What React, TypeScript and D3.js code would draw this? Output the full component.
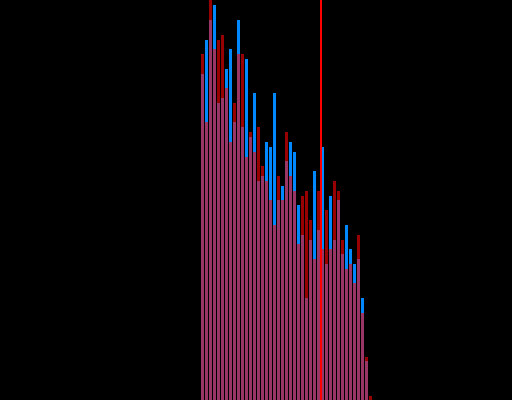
import React from "react";
import * as d3 from "d3";

// Bin index (left edge) for each histogram bin
const bins: number[] = Array.from({ length: 43 }, (_, i) => i);

// Series A (blue) counts per bin
const blueValues: number[] = [
  326, 360, 380, 395, 297, 302, 331, 351, 278, 380, 273, 341, 263, 307, 219,
  224, 258, 253, 307, 200, 214, 239, 258, 248, 195, 165, 102, 160, 229, 170,
  253, 136, 204, 160, 200, 146, 175, 151, 136, 141, 102, 39, 0,
];

// Series B (red) counts per bin
const redValues: number[] = [
  346, 278, 405, 351, 360, 365, 312, 258, 297, 346, 346, 243, 268, 248, 273,
  234, 219, 200, 175, 224, 200, 268, 224, 209, 156, 204, 209, 180, 141, 209,
  151, 190, 151, 219, 209, 160, 131, 136, 117, 165, 87, 43, 4,
];

// Reference marker position (in bin units)
const markerValue = 29.8;

const W = 512;
const H = 400;

export default function App() {
  const x = d3.scaleLinear().domain([0, 43]).range([201, 373]);
  const y = d3.scaleLinear().domain([0, 400]).range([H, 0]);
  const binW = x(1) - x(0);
  const barW = binW - 1;

  return (
    <svg
      width={W}
      height={H}
      style={{ position: "fixed", left: 0, top: 0, background: "#000", display: "block" }}
    >
      <rect x={0} y={0} width={W} height={H} fill="#000" />
      <g>
        {bins.map((b, i) => (
          <rect
            key={"b" + i}
            x={x(b)}
            y={y(blueValues[i])}
            width={barW}
            height={H - y(blueValues[i])}
            fill="#0088ff"
            shapeRendering="crispEdges"
          />
        ))}
      </g>
      <g>
        {bins.map((b, i) => (
          <rect
            key={"r" + i}
            x={x(b)}
            y={y(redValues[i])}
            width={barW}
            height={H - y(redValues[i])}
            fill="#ff0000"
            fillOpacity={0.6}
            shapeRendering="crispEdges"
          />
        ))}
      </g>
      <rect
        x={Math.round(x(markerValue))}
        y={0}
        width={1.5}
        height={H}
        fill="#ff0000"
        shapeRendering="crispEdges"
      />
    </svg>
  );
}
